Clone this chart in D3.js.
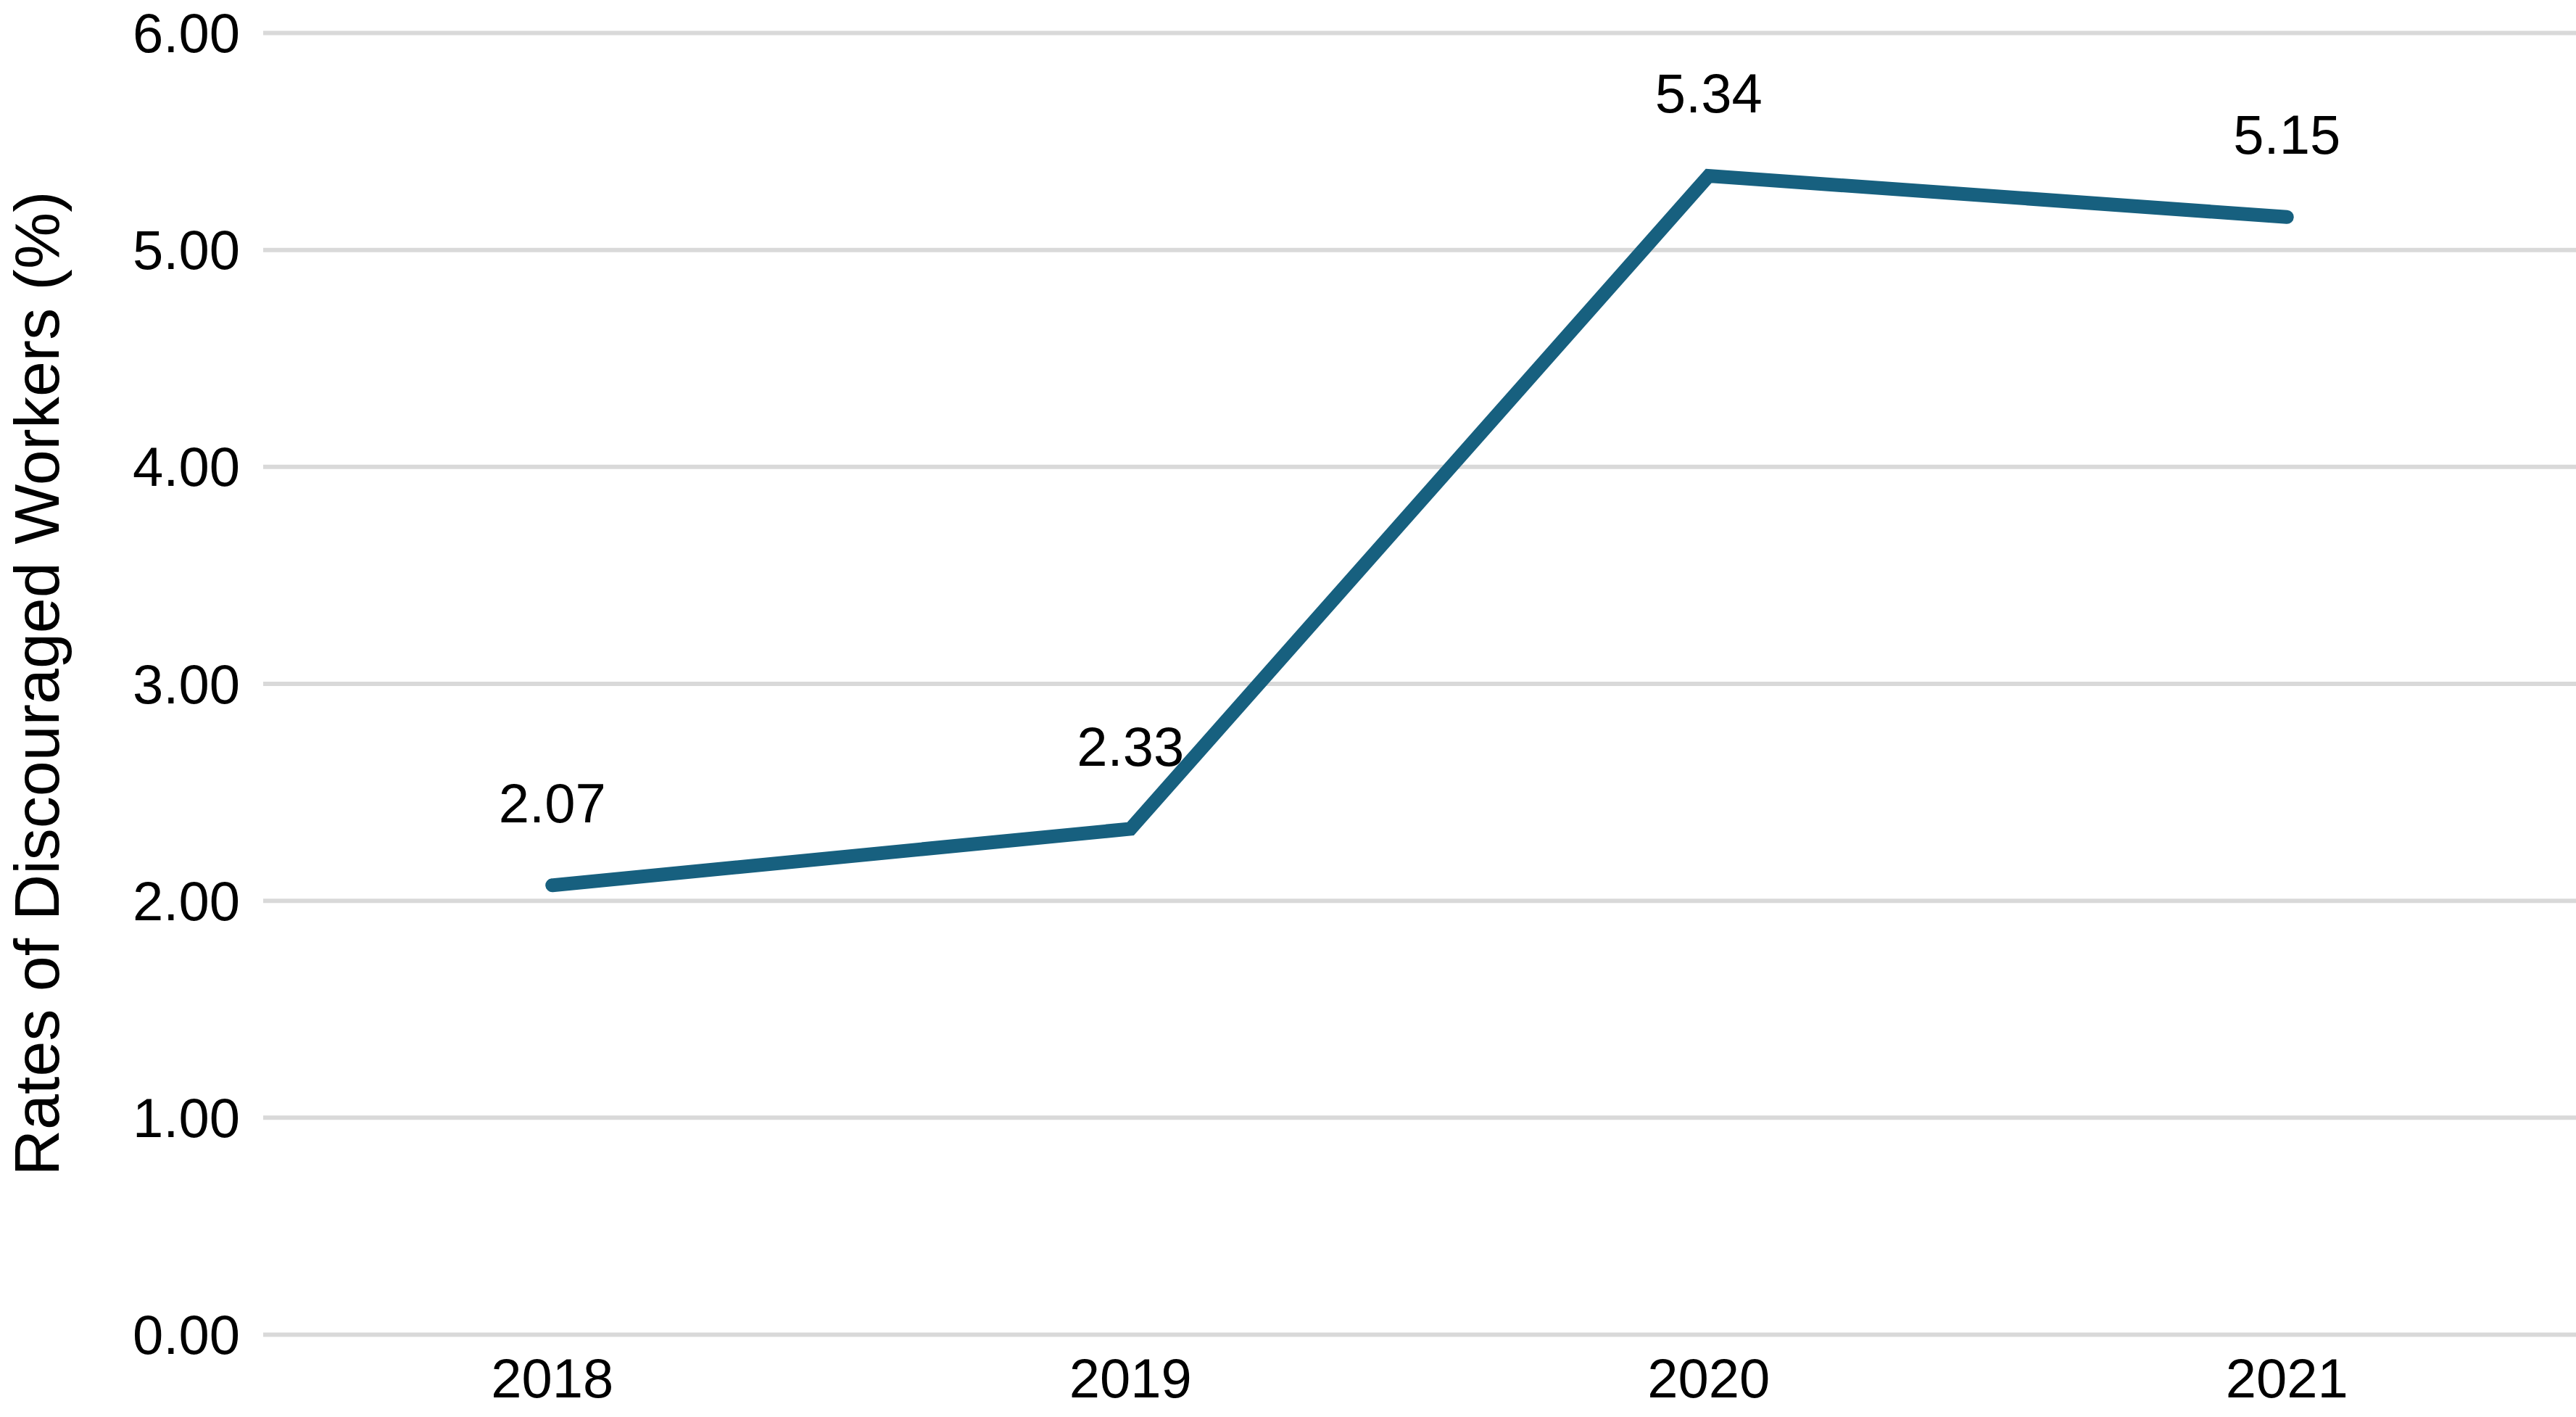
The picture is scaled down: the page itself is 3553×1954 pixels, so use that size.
<!DOCTYPE html>
<html>
<head>
<meta charset="utf-8">
<script src="https://cdn.jsdelivr.net/npm/d3@7"></script>
<style>
  html, body { margin: 0; padding: 0; background: #fff; }
  svg { display: block; font-family: "Liberation Sans", Arial, sans-serif; }
  .grid line { stroke: #d9d9d9; stroke-width: 6; }
  .grid .domain { display: none; }
  .axis text { fill: #000; font-size: 76px; }
  .axis .domain, .axis line { display: none; }
</style>
</head>
<body>
<svg id="chart" width="3553" height="1954"></svg>
<script>
// Дані графіка
var years = ["2018", "2019", "2020", "2021"];
var rates = [2.07, 2.33, 5.34, 5.15];
var yTicks = [0, 1, 2, 3, 4, 5, 6];
var yTitle = "Rates of Discouraged Workers (%)";

var svg = d3.select("#chart"),
    margin = { top: 45, right: 0, bottom: 114, left: 363 },
    width = +svg.attr("width") - margin.left - margin.right,
    height = +svg.attr("height") - margin.top - margin.bottom;

var x = d3.scaleBand().domain(years).range([0, width]).padding(0),
    y = d3.scaleLinear().domain([0, 6]).range([height, 0]);

var g = svg.append("g")
    .attr("transform", "translate(" + margin.left + "," + margin.top + ")");

// Горизонтальна сітка
g.append("g")
    .attr("class", "grid")
    .call(d3.axisLeft(y).tickValues(yTicks).tickSize(-width).tickFormat(""));

// Вісь Y
g.append("g")
    .attr("class", "axis axis--y")
    .call(d3.axisLeft(y).tickValues(yTicks).tickSize(0).tickPadding(32).tickFormat(d3.format(".2f")))
    .selectAll("text")
    .attr("dy", "0.35em");

// Вісь X
g.append("g")
    .attr("class", "axis axis--x")
    .attr("transform", "translate(0," + height + ")")
    .call(d3.axisBottom(x).tickSize(0).tickPadding(32))
    .selectAll("text")
    .attr("dy", "0.72em");

// Підпис осі Y
svg.append("text")
    .attr("transform", "translate(50," + (margin.top + height / 2) + ") rotate(-90)")
    .attr("text-anchor", "middle")
    .attr("dy", "0.35em")
    .style("font-size", "88px")
    .text(yTitle);

var data = years.map(function (d, i) { return { year: d, value: rates[i] }; });

var line = d3.line()
    .x(function (d) { return x(d.year) + x.bandwidth() / 2; })
    .y(function (d) { return y(d.value); });

g.append("path")
    .datum(data)
    .attr("fill", "none")
    .attr("stroke", "#17607f")
    .attr("stroke-width", 19)
    .attr("stroke-linecap", "round")
    .attr("stroke-linejoin", "miter")
    .attr("d", line);

// Підписи значень
g.selectAll(".label")
    .data(data)
    .enter()
    .append("text")
    .attr("class", "label")
    .attr("x", function (d) { return x(d.year) + x.bandwidth() / 2; })
    .attr("y", function (d) { return y(d.value) - 87; })
    .attr("text-anchor", "middle")
    .style("font-size", "76px")
    .text(function (d) { return d3.format(".2f")(d.value); });
</script>
</body>
</html>
